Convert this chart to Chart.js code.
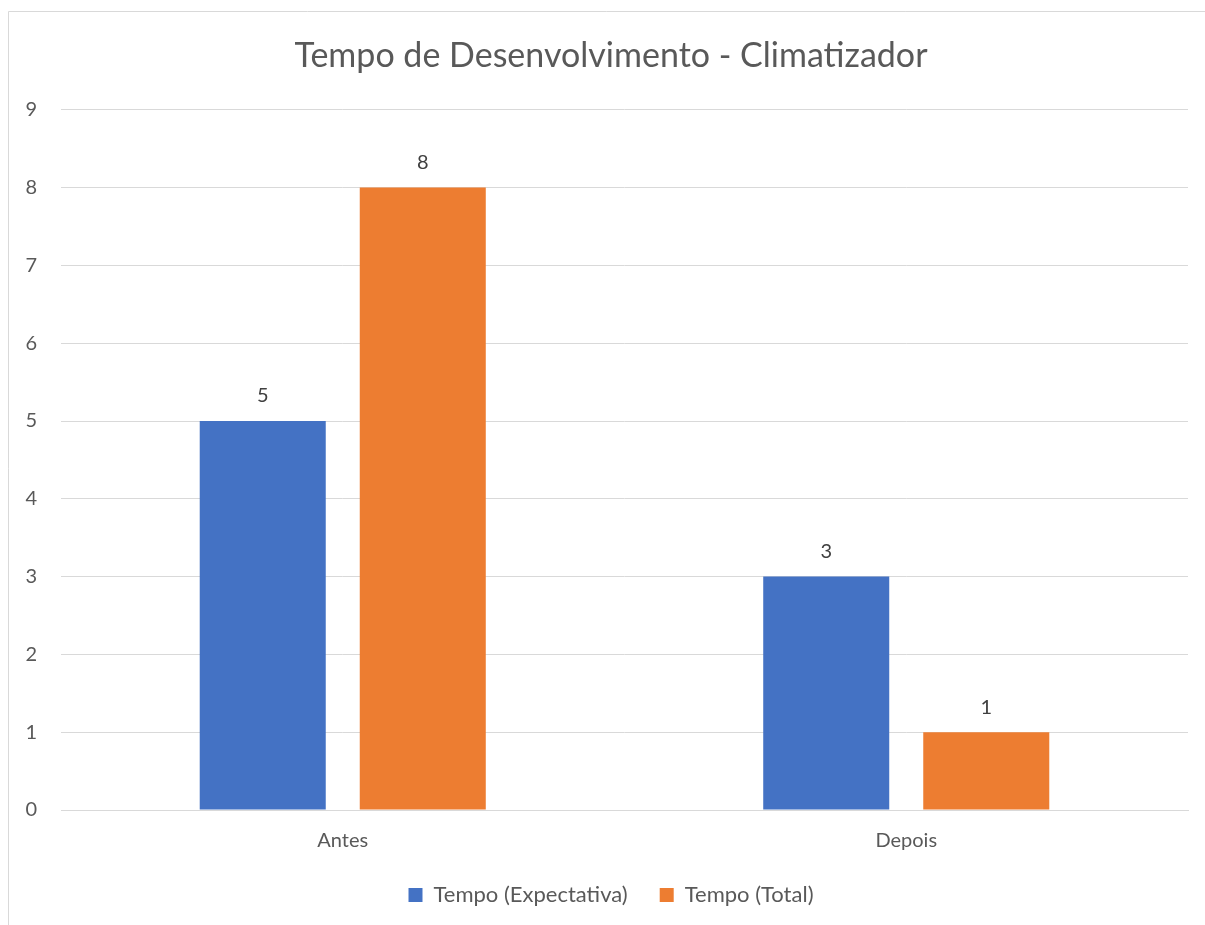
<!DOCTYPE html>
<html>
<head>
<meta charset="utf-8">
<script src="https://cdn.jsdelivr.net/npm/chart.js@4/dist/chart.umd.min.js"></script>
<style>
  html, body { margin: 0; padding: 0; background: #ffffff; overflow: hidden; }
  #wrap { width: 1205px; height: 925px; position: relative; }
</style>
</head>
<body>
<div id="wrap"><canvas id="c" width="1205" height="925"></canvas></div>
<script>
const categories = ['Antes', 'Depois'];
const expectativa = [5, 3];
const total = [8, 1];
const seriesNames = ['Tempo (Expectativa)', 'Tempo (Total)'];
const yTicks = [0, 1, 2, 3, 4, 5, 6, 7, 8, 9];

const FONT = 'Lato, "Open Sans", sans-serif';
const TEXT = '#595959';

// Light frame along the top and left edges of the chart
const framePlugin = {
  id: 'frame',
  beforeDraw(chart) {
    const ctx = chart.ctx;
    ctx.save();
    ctx.fillStyle = '#ffffff';
    ctx.fillRect(0, 0, chart.width, chart.height);
    ctx.strokeStyle = '#d9d9d9';
    ctx.lineWidth = 1;
    ctx.beginPath();
    ctx.moveTo(8.5, chart.height);
    ctx.lineTo(8.5, 11.5);
    ctx.lineTo(chart.width, 11.5);
    ctx.stroke();
    ctx.restore();
  }
};

// Value labels above each bar
const valueLabels = {
  id: 'valueLabels',
  afterDatasetsDraw(chart) {
    const ctx = chart.ctx;
    ctx.save();
    ctx.font = '20px ' + FONT;
    ctx.fillStyle = '#404040';
    ctx.textAlign = 'center';
    ctx.textBaseline = 'middle';
    chart.data.datasets.forEach((ds, i) => {
      chart.getDatasetMeta(i).data.forEach((bar, j) => {
        ctx.fillText(String(ds.data[j]), bar.x, bar.y - 25);
      });
    });
    ctx.restore();
  }
};

new Chart(document.getElementById('c'), {
  type: 'bar',
  data: {
    labels: categories,
    datasets: [
      { label: seriesNames[0], data: expectativa, backgroundColor: '#4472C4',
        categoryPercentage: 0.568, barPercentage: 0.7875 },
      { label: seriesNames[1], data: total, backgroundColor: '#ED7D31',
        categoryPercentage: 0.568, barPercentage: 0.7875 }
    ]
  },
  options: {
    responsive: false,
    animation: false,
    layout: { padding: { left: 17, right: 0, top: 0, bottom: 9 } },
    plugins: {
      title: {
        display: true,
        text: 'Tempo de Desenvolvimento - Climatizador',
        color: TEXT,
        font: { family: FONT, size: 34, weight: 'normal' },
        padding: { top: 36, bottom: 33 }
      },
      legend: {
        position: 'bottom',
        labels: {
          color: TEXT,
          font: { family: FONT, size: 22 },
          boxWidth: 14, boxHeight: 14,
          padding: 32
        }
      },
      tooltip: { enabled: false }
    },
    scales: {
      x: {
        grid: { display: false, drawTicks: false },
        border: { color: '#d9d9d9' },
        ticks: { color: TEXT, font: { family: FONT, size: 20 }, padding: 19 },
        afterFit(s) { s.height = 42; }
      },
      y: {
        min: 0, max: 9,
        afterBuildTicks(s) { s.ticks = yTicks.map(v => ({ value: v })); },
        grid: { color: '#d9d9d9', drawTicks: false },
        border: { display: false },
        ticks: { color: TEXT, font: { family: FONT, size: 20 }, padding: 24 },
        afterFit(s) { s.width = 44; }
      },
      // empty right margin between the plot and the frame edge
      gutter: {
        type: 'linear',
        position: 'right',
        grid: { display: false, drawTicks: false },
        border: { display: false },
        ticks: { display: false },
        afterFit(s) { s.width = 17; }
      }
    }
  },
  plugins: [framePlugin, valueLabels]
});
</script>
</body>
</html>
